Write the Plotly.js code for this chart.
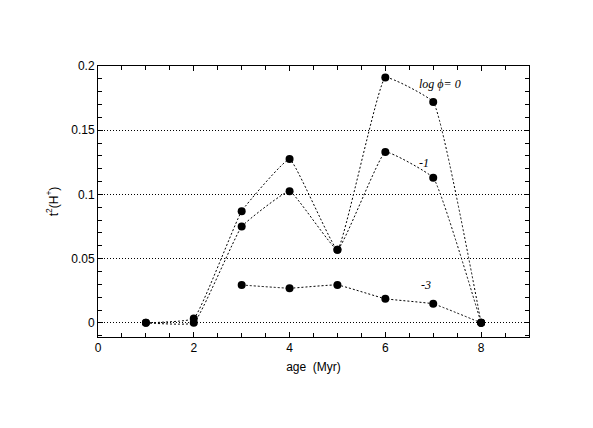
<!DOCTYPE html>
<html><head><meta charset="utf-8">
<script src="https://cdn.plot.ly/plotly-3.0.1.min.js"></script>
<style>html,body{margin:0;padding:0;background:#fff;}</style>
</head><body>
<div id="chart" style="width:593px;height:428px;"></div>
<script>
const ageA = [1, 2, 3, 4, 5, 6, 7, 8];
const logPhi0 = [0, 0.0034, 0.087, 0.1275, 0.057, 0.191, 0.172, 0];
const logPhiM1 = [0, 0, 0.075, 0.1025, 0.057, 0.133, 0.113, 0];
const ageB = [3, 4, 5, 6, 7, 8];
const logPhiM3 = [0.0295, 0.027, 0.0295, 0.0188, 0.0148, 0];
const yTickVals = [0, 0.05, 0.1, 0.15, 0.2];
const yTickText = ['0', '0.05', '0.1', '0.15', '0.2'];
const xTickVals = [0, 2, 4, 6, 8];
const labels = [
  {x: 7.15, y: 0.186, t: 'log \u03D5= 0'},
  {x: 6.8, y: 0.1245, t: '-1'},
  {x: 6.85, y: 0.0296, t: '-3'}
];

const lineStyle = {color: '#000', width: 1, dash: '2px,2px', shape: 'spline', smoothing: 0.3};
const markerStyle = {color: '#000', size: 8};
const traces = [
  {x: ageA, y: logPhi0, name: 'log phi=0'},
  {x: ageA, y: logPhiM1, name: '-1'},
  {x: ageB, y: logPhiM3, name: '-3'}
].map(t => Object.assign(t, {type: 'scatter', mode: 'lines+markers', line: lineStyle, marker: markerStyle, cliponaxis: false}));

const axisCommon = {
  showline: true, linecolor: '#000', linewidth: 1, mirror: 'allticks',
  ticks: 'inside', ticklen: 5, tickcolor: '#000',
  zeroline: false,
  tickfont: {family: 'Liberation Sans, Arial, sans-serif', size: 12, color: '#000'}
};

const layout = {
  width: 593, height: 428,
  margin: {l: 98, r: 64, t: 66, b: 91},
  paper_bgcolor: '#fff', plot_bgcolor: '#fff',
  showlegend: false,
  xaxis: Object.assign({}, axisCommon, {
    range: [0, 9], tickvals: xTickVals, showgrid: false,
    minor: {dtick: 0.5, tick0: 0, ticks: 'inside', ticklen: 4, tickcolor: '#000', showgrid: false},
    title: {text: 'age  (Myr)', font: {family: 'Liberation Sans, Arial, sans-serif', size: 12, color: '#000'}, standoff: 8}
  }),
  yaxis: Object.assign({}, axisCommon, {
    range: [-0.011, 0.2], tickvals: yTickVals, ticktext: yTickText,
    showgrid: true, gridcolor: '#000', gridwidth: 1, griddash: '1px,2px',
    minor: {dtick: 0.01, tick0: 0, ticks: 'inside', ticklen: 4, tickcolor: '#000', showgrid: false},
    title: {text: 't<sup>2</sup>(H<sup>+</sup>)', font: {family: 'Liberation Sans, Arial, sans-serif', size: 12, color: '#000'}, standoff: 10}
  }),
  annotations: labels.map(l => ({
    x: l.x, y: l.y, xref: 'x', yref: 'y', text: l.t, showarrow: false,
    font: {family: 'Liberation Serif, Times New Roman, serif', size: 12, color: '#000', style: 'italic'}
  }))
};

Plotly.newPlot('chart', traces, layout, {displayModeBar: false, staticPlot: true});
</script>
</body></html>
